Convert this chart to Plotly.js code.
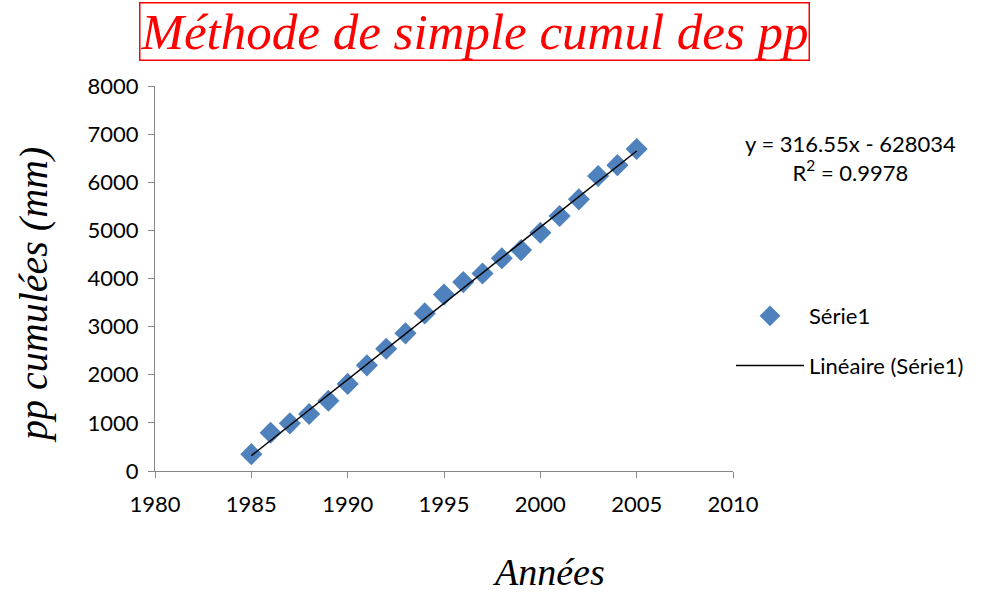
<!DOCTYPE html>
<html><head><meta charset="utf-8">
<script src="https://cdn.plot.ly/plotly-3.0.1.min.js"></script>
<style>html,body{margin:0;padding:0;background:#fff}#chart{width:1000px;height:594px}</style>
</head><body><div id="chart"></div>
<script>
const years = [1985,1986,1987,1988,1989,1990,1991,1992,1993,1994,1995,1996,1997,1998,1999,2000,2001,2002,2003,2004,2005];
const ppCumul = [350,795,990,1185,1460,1810,2195,2540,2860,3275,3665,3925,4105,4420,4590,4950,5300,5645,6130,6355,6690];
const trendSlope = 316.55;
const trendIntercept = -628034;
const r2 = 0.9978;
const seriesName = "Série1";
const trendName = "Linéaire (Série1)";
const xTickVals = [1980,1985,1990,1995,2000,2005,2010];

const tx = [years[0], years[years.length-1]];
const ty = tx.map(x => trendSlope*x + trendIntercept);

const axisFont = {family: "Lato, 'Open Sans', sans-serif", size: 22, color: "#000"};
const serifItalic = "'Liberation Serif', 'DejaVu Serif', serif";

const data = [
  {x: years, y: ppCumul, type: "scatter", mode: "markers", name: seriesName, legendgroup: "a",
   marker: {symbol: "diamond", size: 17, color: "#4F81BD"}},
  {x: tx, y: ty, type: "scatter", mode: "lines", name: trendName, legendgroup: "b",
   line: {color: "#000", width: 1.5}}
];

// plot area in px: x 155..733, y 86..471
const px = v => (v - 155) / 578;
const py = v => (471 - v) / 385;

const layout = {
  width: 1000, height: 594,
  margin: {l: 155, r: 267, t: 86, b: 123},
  paper_bgcolor: "#fff", plot_bgcolor: "#fff",
  showlegend: true,
  legend: {x: px(731), xanchor: "left", y: py(341), yanchor: "middle", font: axisFont,
           itemwidth: 68, tracegroupgap: 18, bgcolor: "rgba(0,0,0,0)"},
  xaxis: {range: [1980, 2010], tickvals: xTickVals, ticks: "outside", ticklabelstandoff: 8,
          ticklen: 6, tickcolor: "#868686", showline: true, linecolor: "#868686", linewidth: 1,
          showgrid: false, zeroline: false, tickfont: axisFont},
  yaxis: {range: [0, 8000], dtick: 1000, ticks: "outside", ticklen: 6, tickcolor: "#868686",
          ticklabelstandoff: 5,
          showline: true, linecolor: "#868686", linewidth: 1, showgrid: false, zeroline: false,
          tickfont: axisFont},
  annotations: [
    {xref: "paper", yref: "paper", x: px(474), y: py(31), showarrow: false,
     xanchor: "center", yanchor: "middle",
     text: "Méthode de simple cumul des pp",
     font: {family: serifItalic, style: "italic", size: 51, color: "#ff0000"},
     bordercolor: "#ff0000", borderwidth: 1.5, borderpad: 0, bgcolor: "#fff"},
    {xref: "paper", yref: "paper", x: px(850), y: py(158), showarrow: false,
     xanchor: "center", yanchor: "middle", align: "center",
     text: "y = " + trendSlope + "x - " + Math.abs(trendIntercept) + "<br>R<sup>2</sup> = " + r2,
     font: axisFont},
    {xref: "paper", yref: "paper", x: px(33), y: py(295), showarrow: false, textangle: -90,
     xanchor: "center", yanchor: "middle", text: "pp cumulées (mm)",
     font: {family: serifItalic, style: "italic", size: 40, color: "#000"}},
    {xref: "paper", yref: "paper", x: px(548), y: py(572), showarrow: false,
     xanchor: "center", yanchor: "middle", text: "Années",
     font: {family: serifItalic, style: "italic", size: 38, color: "#000"}}
  ]
};
Plotly.newPlot("chart", data, layout, {displayModeBar: false});
</script></body></html>
